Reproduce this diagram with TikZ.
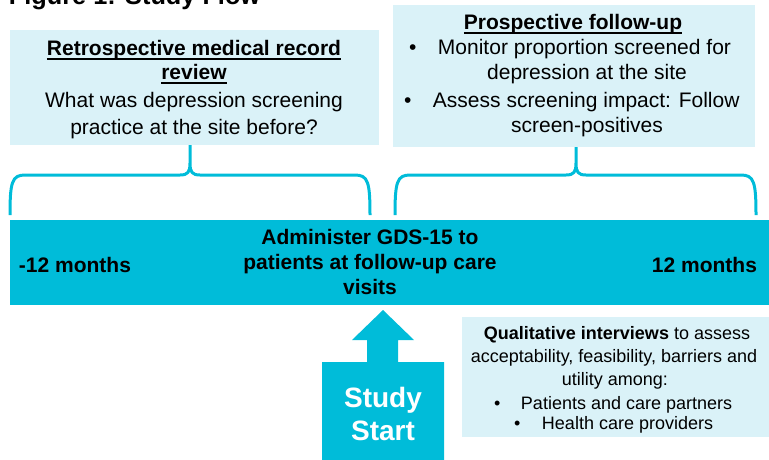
\documentclass[tikz,border=0pt]{standalone}
\usepackage{fontspec}
\setmainfont{Liberation Sans}
\newsavebox\myulbox
\newcommand\myul[1]{\sbox\myulbox{#1}\rlap{\rule[-4.5pt]{\wd\myulbox}{2pt}}\usebox\myulbox}
\definecolor{barcyan}{RGB}{0,188,217}
\definecolor{lightcyan}{RGB}{218,242,248}
\begin{document}
\begin{tikzpicture}[x=1pt,y=-1pt,
  every node/.style={inner sep=0pt, outer sep=0pt},
  txt/.style={font=\fontsize{21}{25}\selectfont, anchor=base},
  txtb/.style={font=\fontsize{21}{25}\selectfont\bfseries, anchor=base},
  small/.style={font=\fontsize{18}{22}\selectfont, anchor=base},
  bigw/.style={font=\fontsize{28}{33}\selectfont\bfseries, text=white, anchor=base},
  panel/.style={fill=lightcyan, anchor=north west},
  brace/.style={draw=barcyan, line width=3pt, line join=round, line cap=butt}]
\useasboundingbox (0,0) rectangle (769,459);

% title (cut at top, as in the reference)
\node[font=\fontsize{25.3}{29}\selectfont\bfseries, anchor=base west] (title) at (9,4.5) {Figure 1: Study Flow};

% panels
\node[panel, minimum width=369pt, minimum height=115pt] (retro) at (10,30) {};
\node[panel, minimum width=362pt, minimum height=142pt] (prosp) at (393,5) {};
\node[panel, minimum width=310pt, minimum height=120pt] (qual) at (462,317) {};
\node[fill=barcyan, anchor=north west, minimum width=762pt, minimum height=85pt] (bar) at (10,220) {};

% braces
\draw[brace] (10,215) .. controls (10,182) and (12,175) .. (25,175) -- (180,175)
  .. controls (188,175) and (190,172) .. (190,163) -- (190,145)
  (190,163) .. controls (190,172) and (192,175) .. (200,175) -- (355,175)
  .. controls (368,175) and (370,182) .. (370,215);
\draw[brace] (395,215) .. controls (395,182) and (397,175) .. (410,175) -- (566,175)
  .. controls (574,175) and (576,172) .. (576,163) -- (576,147)
  (576,163) .. controls (576,172) and (578,175) .. (586,175) -- (741,175)
  .. controls (754,175) and (756,182) .. (756,215);

% study start arrow
\fill[barcyan] (383,310) -- (414,340) -- (398,340) -- (398,362) -- (444,362) -- (444,462)
  -- (322,462) -- (322,362) -- (367,362) -- (367,340) -- (352,340) -- cycle;
\node[bigw] (s1) at (383,407) {Study};
\node[bigw] (s2) at (383,440) {Start};

% retrospective text
\node[txtb] (r1) at (194,55) {\myul{Retrospective medical record}};
\node[txtb] (r2) at (194,79) {\myul{review}};
\node[txt] (r3) at (194,107) {What was depression screening};
\node[txt] (r4) at (194,134) {practice at the site before?};

% prospective text
\node[txtb] (p0) at (573,29) {\myul{Prospective follow-up}};
\node[txt, anchor=base west] (p1) at (409,54) {\makebox[29pt][l]{•}Monitor proportion screened for};
\node[txt] (p2) at (587,79) {depression at the site};
\node[txt, anchor=base west] (p3) at (404,107) {\makebox[29pt][l]{•}Assess screening impact: Follow};
\node[txt] (p4) at (587,132) {screen-positives};

% bar text
\node[txtb, anchor=base west] (m1) at (19,272) {-12 months};
\node[txtb, anchor=base east] (m2) at (757,272) {12 months};
\node[txtb] (g1) at (370,244) {Administer GDS-15 to};
\node[txtb] (g2) at (370,269) {patients at follow-up care};
\node[txtb] (g3) at (370,294) {visits};

% qualitative text
\node[small] (q1) at (617,339) {\textbf{Qualitative interviews} to assess};
\node[small] (q2) at (614,362) {acceptability, feasibility, barriers and};
\node[small] (q3) at (615,385) {utility among:};
\node[small, anchor=base west] (q4) at (494,409) {\makebox[27pt][l]{•}Patients and care partners};
\node[small, anchor=base west] (q5) at (514,429) {\makebox[28pt][l]{•}Health care providers};
\end{tikzpicture}
\end{document}
